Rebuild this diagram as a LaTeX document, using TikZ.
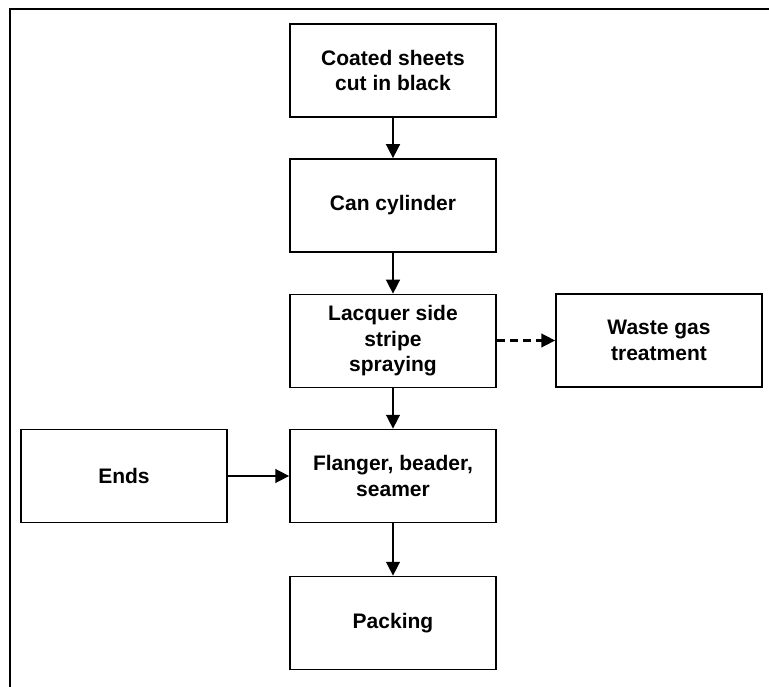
\documentclass[tikz,border=0pt]{standalone}
\usepackage{fontspec}
\setmainfont{Liberation Sans}
\usetikzlibrary{arrows.meta}
\tikzset{
  box/.style={draw, line width=1.5pt, minimum width=206pt, minimum height=93pt,
    align=center, inner sep=0pt, font=\fontsize{21}{25.5}\selectfont\bfseries},
  arr/.style={line width=2.7pt, -{Triangle[length=14pt,width=13.5pt]}},
  dasharr/.style={arr, dash pattern=on 8pt off 5pt},
  frameline/.style={line width=2.2pt}
}
\begin{document}
\begin{tikzpicture}[x=1pt,y=-1pt]
\useasboundingbox (0,0) rectangle (769,687);
\coordinate (fa) at (10,690);
\coordinate (fb) at (10,9);
\coordinate (fc) at (772,9);
\draw[frameline] (fa) -- (fb) -- (fc);
\node[box] (b1) at (393,70.5) {Coated sheets\\cut in black};
\node[box] (b2) at (393,205.5) {Can cylinder};
\node[box] (b3) at (393,341) {Lacquer side\\stripe\\spraying};
\node[box] (waste) at (659,340.5) {Waste gas\\treatment};
\node[box] (ends) at (124,476) {Ends};
\node[box] (flanger) at (393,476) {Flanger, beader,\\seamer};
\node[box] (pack) at (393,623) {Packing};
\draw[arr] (b1) -- (b2);
\draw[arr] (b2) -- (b3);
\draw[arr] (b3) -- (flanger);
\draw[dasharr] (b3.east |- waste.west) -- (waste.west);
\draw[arr] (ends) -- (flanger);
\draw[arr] (flanger) -- (pack);
\end{tikzpicture}
\end{document}
